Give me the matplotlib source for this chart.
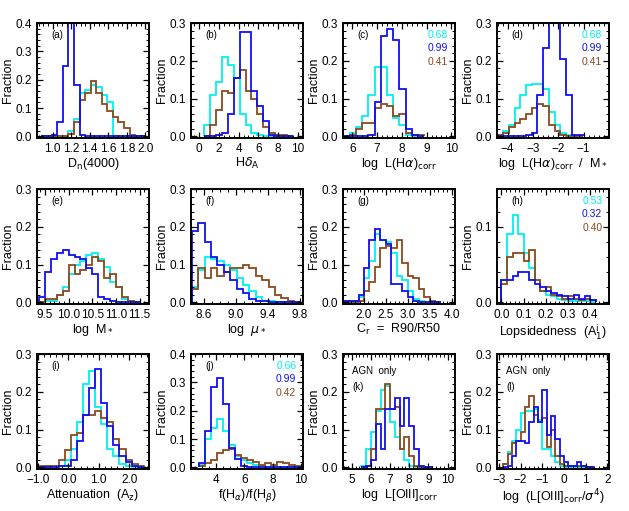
import numpy as np
import matplotlib
matplotlib.use("Agg")
import matplotlib.pyplot as plt
from matplotlib.ticker import AutoMinorLocator, FixedLocator

plt.rcParams['font.family'] = ['Liberation Sans', 'DejaVu Sans']
plt.rcParams['mathtext.fontset'] = 'dejavusans'

CYAN = '#00f0f0'
BLUE = '#1010f0'
BROWN = '#8b4a1c'

# ---------------- data ----------------
# (a) Dn(4000)
a_edges = np.round(np.arange(0.87, 2.02, 0.06), 3)
a_cyan = [0, 0, 0, 0, 0, 0.02, 0.06, 0.155, 0.165, 0.18, 0.175, 0.145, 0.12, 0, 0, 0, 0, 0, 0]
a_blue = [0, 0.002, 0.005, 0.05, 0.25, 0.5, 0.18, 0.005, 0.002, 0, 0, 0, 0, 0, 0, 0, 0, 0, 0]
a_brown = [0, 0, 0, 0, 0, 0.01, 0.05, 0.13, 0.155, 0.195, 0.155, 0.115, 0.09, 0.07, 0.05, 0.03, 0.005, 0, 0]

# (b) Hdelta_A
b_edges = np.round(np.arange(0.5, 9.6, 0.6), 3)
b_cyan = [0.03, 0.11, 0.145, 0.21, 0.19, 0.155, 0.06, 0.03, 0.01, 0.005, 0, 0, 0, 0, 0]
b_blue = [0, 0, 0.005, 0.01, 0.06, 0.155, 0.275, 0.275, 0.12, 0.08, 0.04, 0.005, 0, 0, 0]
b_brown = [0, 0.03, 0.07, 0.12, 0.115, 0.155, 0.175, 0.12, 0.10, 0.06, 0.025, 0.01, 0.005, 0.005, 0]

# (c) log L(Halpha)corr
c_edges = np.round(np.arange(5.65, 9.0, 0.25), 3)
c_cyan = [0.002, 0.01, 0.025, 0.055, 0.11, 0.185, 0.185, 0.11, 0.05, 0.03, 0.005, 0, 0]
c_blue = [0, 0, 0, 0, 0.005, 0.09, 0.265, 0.285, 0.255, 0.125, 0.02, 0.005, 0]
c_brown = [0, 0.005, 0.02, 0.035, 0.035, 0.075, 0.085, 0.08, 0.055, 0.06, 0.01, 0.005, 0.003]

# (d) log L(Halpha)corr / M*
d_edges = np.round(np.arange(-4.4, -0.99, 0.225), 3)
d_cyan = [0.005, 0.015, 0.03, 0.075, 0.11, 0.135, 0.14, 0.14, 0.125, 0.065, 0.03, 0.01, 0.003, 0, 0]
d_blue = [0, 0, 0, 0, 0, 0.005, 0.01, 0.11, 0.235, 0.4, 0.4, 0.205, 0.11, 0.005, 0.003]
d_brown = [0.005, 0.01, 0.025, 0.035, 0.045, 0.06, 0.075, 0.085, 0.08, 0.03, 0.015, 0.005, 0, 0, 0]

# (e) log M*
e_edges = np.round(np.arange(9.375, 11.51, 0.125), 4)
e_cyan = [0, 0.005, 0.005, 0.02, 0.04, 0.075, 0.10, 0.11, 0.125, 0.13, 0.115, 0.095, 0.055, 0.04, 0.01, 0.005, 0]
e_blue = [0.015, 0.08, 0.115, 0.13, 0.14, 0.125, 0.12, 0.115, 0.09, 0.075, 0.015, 0.008, 0.005, 0.002, 0, 0, 0]
e_brown = [0, 0.01, 0.01, 0.02, 0.03, 0.10, 0.075, 0.085, 0.10, 0.12, 0.11, 0.065, 0.075, 0.04, 0.015, 0.005, 0]

# (f) log mu*
f_edges = np.round(np.arange(8.45, 9.82, 0.08), 3)
f_cyan = [0.04, 0.085, 0.12, 0.115, 0.11, 0.10, 0.085, 0.065, 0.045, 0.03, 0.015, 0.005, 0.003, 0, 0, 0, 0]
f_blue = [0.19, 0.21, 0.16, 0.12, 0.10, 0.08, 0.06, 0.035, 0.025, 0.01, 0.005, 0.003, 0, 0, 0, 0, 0]
f_brown = [0.035, 0.09, 0.065, 0.09, 0.07, 0.08, 0.09, 0.09, 0.10, 0.09, 0.07, 0.06, 0.04, 0.02, 0.012, 0.005, 0]

# (g) Cr
g_edges = np.round(np.arange(1.5, 3.76, 0.125), 4)
g_cyan = [0.003, 0.003, 0.003, 0.015, 0.065, 0.11, 0.18, 0.165, 0.16, 0.13, 0.07, 0.06, 0.03, 0.01, 0.005, 0, 0, 0]
g_blue = [0.003, 0.003, 0.003, 0.02, 0.09, 0.165, 0.195, 0.165, 0.155, 0.05, 0.05, 0.03, 0.015, 0.005, 0, 0, 0, 0]
g_brown = [0, 0, 0, 0.005, 0.03, 0.055, 0.095, 0.145, 0.15, 0.145, 0.165, 0.105, 0.07, 0.065, 0.035, 0.015, 0.005, 0]

# (h) Lopsidedness
h_edges = np.round(np.arange(0.0, 0.426, 0.025), 4)
h_cyan = [0.03, 0.09, 0.115, 0.09, 0.065, 0.045, 0.03, 0.015, 0.01, 0.008, 0.005, 0.003, 0.002, 0.002, 0.002, 0.002, 0.001]
h_blue = [0.03, 0.03, 0.035, 0.04, 0.04, 0.03, 0.025, 0.02, 0.015, 0.012, 0.01, 0.008, 0.005, 0.01, 0.005, 0.008, 0.003]
h_brown = [0.025, 0.06, 0.065, 0.065, 0.055, 0.07, 0.03, 0.015, 0.02, 0.01, 0.008, 0.005, 0.008, 0.004, 0.003, 0.004, 0.003]

# (i) Attenuation Az
i_edges = np.round(np.arange(-0.92, 2.5, 0.2), 3)
i_cyan = [0, 0.003, 0.003, 0.005, 0.02, 0.05, 0.12, 0.22, 0.255, 0.16, 0.115, 0.05, 0.03, 0.01, 0.005, 0, 0]
i_blue = [0, 0, 0, 0.003, 0.005, 0.02, 0.07, 0.14, 0.21, 0.26, 0.17, 0.11, 0.06, 0.03, 0.015, 0.005, 0]
i_brown = [0.003, 0.003, 0.005, 0.02, 0.045, 0.085, 0.09, 0.14, 0.14, 0.15, 0.13, 0.12, 0.075, 0.05, 0.02, 0.01, 0.005]

# (j) f(Ha)/f(Hb)
j_edges = np.round(np.arange(2.75, 10.1, 0.43), 3)
j_cyan = [0.01, 0.10, 0.14, 0.17, 0.13, 0.08, 0.04, 0.025, 0.015, 0.01, 0.005, 0.003, 0.002, 0.002, 0.001, 0.001, 0.001]
j_blue = [0.015, 0.13, 0.285, 0.315, 0.225, 0.07, 0.03, 0.005, 0.002, 0, 0, 0, 0, 0, 0, 0, 0]
j_brown = [0.005, 0.015, 0.025, 0.05, 0.06, 0.065, 0.045, 0.035, 0.025, 0.02, 0.01, 0.015, 0.01, 0.02, 0.015, 0.01, 0.005]

# (k) log L[OIII]corr
k_edges = np.round(np.arange(5.5, 9.26, 0.25), 3)
k_cyan = [0.005, 0.05, 0.095, 0.15, 0.205, 0.215, 0.12, 0.08, 0.05, 0.02, 0.005, 0, 0, 0, 0]
k_blue = [0, 0.005, 0.02, 0.115, 0.05, 0.155, 0.155, 0.185, 0.11, 0.185, 0.11, 0.05, 0.005, 0, 0]
k_brown = [0, 0.005, 0.05, 0.155, 0.155, 0.22, 0.155, 0.16, 0.05, 0.08, 0.03, 0.005, 0, 0, 0]

# (l) log(L[OIII]corr / sigma^4)
l_edges = np.round(np.arange(-2.8, 1.41, 0.2), 3)
l_cyan = [0.01, 0.04, 0.07, 0.10, 0.145, 0.15, 0.15, 0.155, 0.125, 0.05, 0.05, 0.03, 0.015, 0.005, 0, 0, 0, 0, 0, 0, 0]
l_blue = [0, 0.005, 0.03, 0.07, 0.07, 0.065, 0.12, 0.16, 0.12, 0.205, 0.085, 0.135, 0.075, 0.03, 0.015, 0.005, 0.005, 0.015, 0.005, 0, 0]
l_brown = [0.01, 0.035, 0.065, 0.07, 0.095, 0.16, 0.19, 0.14, 0.12, 0.13, 0.055, 0.1, 0.03, 0.01, 0.005, 0.005, 0.003, 0.003, 0.005, 0, 0]

panels = [
    dict(tag='(a)', edges=a_edges, c=a_cyan, b=a_blue, r=a_brown, xlim=(0.83, 2.04), ylim=0.4,
         xt=[1.0, 1.2, 1.4, 1.6, 1.8, 2.0], xfmt='{:.1f}', xminor=4, yt=[0, 0.1, 0.2, 0.3, 0.4],
         xlabel=r'D$_{\rm n}$(4000)'),
    dict(tag='(b)', edges=b_edges, c=b_cyan, b=b_blue, r=b_brown, xlim=(-0.8, 10.5), ylim=0.3,
         xt=[0, 2, 4, 6, 8, 10], xfmt='{:d}', xminor=4, yt=[0, 0.1, 0.2, 0.3],
         xlabel=r'H$\delta_{\rm A}$'),
    dict(tag='(c)', edges=c_edges, c=c_cyan, b=c_blue, r=c_brown, xlim=(5.62, 10.15), ylim=0.3,
         xt=[6, 7, 8, 9, 10], xfmt='{:d}', xminor=5, yt=[0, 0.1, 0.2, 0.3],
         xlabel=r'log  L(H$\alpha$)$_{\rm corr}$', nums=['0.68', '0.99', '0.41']),
    dict(tag='(d)', edges=d_edges, c=d_cyan, b=d_blue, r=d_brown, xlim=(-4.42, 0.0), ylim=0.3,
         xt=[-4, -3, -2, -1], xfmt='{:d}', xminor=5, yt=[0, 0.1, 0.2, 0.3],
         xlabel=r'log  L(H$\alpha$)$_{\rm corr}$  /  M$_*$', nums=['0.68', '0.99', '0.41']),
    dict(tag='(e)', edges=e_edges, c=e_cyan, b=e_blue, r=e_brown, xlim=(9.33, 11.7), ylim=0.3,
         xt=[9.5, 10.0, 10.5, 11.0, 11.5], xfmt='{:.1f}', xminor=5, yt=[0, 0.1, 0.2, 0.3],
         xlabel=r'log  M$_*$'),
    dict(tag='(f)', edges=f_edges, c=f_cyan, b=f_blue, r=f_brown, xlim=(8.44, 9.84), ylim=0.3,
         xt=[8.6, 9.0, 9.4, 9.8], xfmt='{:.1f}', xminor=4, yt=[0, 0.1, 0.2, 0.3],
         xlabel=r'log  $\mu_*$'),
    dict(tag='(g)', edges=g_edges, c=g_cyan, b=g_blue, r=g_brown, xlim=(1.52, 4.08), ylim=0.3,
         xt=[2.0, 2.5, 3.0, 3.5, 4.0], xfmt='{:.1f}', xminor=5, yt=[0, 0.1, 0.2, 0.3],
         xlabel=r'C$_{\rm r}$  =  R90/R50'),
    dict(tag='(h)', edges=h_edges, c=h_cyan, b=h_blue, r=h_brown, xlim=(-0.02, 0.485), ylim=0.15,
         xt=[0.0, 0.1, 0.2, 0.3, 0.4], xfmt='{:.1f}', xminor=5, yt=[0, 0.1],
         xlabel=r'Lopsidedness  (A$_1^{\rm i}$)', nums=['0.53', '0.32', '0.40']),
    dict(tag='(i)', edges=i_edges, c=i_cyan, b=i_blue, r=i_brown, xlim=(-1.03, 2.65), ylim=0.3,
         xt=[-1.0, 0.0, 1.0, 2.0], xfmt='{:.1f}', xminor=5, yt=[0, 0.1, 0.2, 0.3],
         xlabel=r'Attenuation  (A$_{\rm z}$)'),
    dict(tag='(j)', edges=j_edges, c=j_cyan, b=j_blue, r=j_brown, xlim=(2.2, 10.17), ylim=0.4,
         xt=[4, 6, 8, 10], xfmt='{:d}', xminor=4, yt=[0, 0.1, 0.2, 0.3, 0.4],
         xlabel=r'f(H$_\alpha$)/f(H$_\beta$)', nums=['0.66', '0.99', '0.42']),
    dict(tag='(k)', edges=k_edges, c=k_cyan, b=k_blue, r=k_brown, xlim=(4.54, 10.39), ylim=0.3,
         xt=[5, 6, 7, 8, 9, 10], xfmt='{:d}', xminor=5, yt=[0, 0.1, 0.2, 0.3],
         xlabel=r'log  L[OIII]$_{\rm corr}$', agn=True),
    dict(tag='(l)', edges=l_edges, c=l_cyan, b=l_blue, r=l_brown, xlim=(-3.09, 2.08), ylim=0.3,
         xt=[-3, -2, -1, 0, 1, 2], xfmt='{:d}', xminor=5, yt=[0, 0.1, 0.2, 0.3],
         xlabel=r'log  (L[OIII]$_{\rm corr}$/$\sigma^4$)', agn=True),
]

W, H = 629, 511
fig = plt.figure(figsize=(W / 100, H / 100), dpi=100)
lefts = [37, 191, 343, 497]
rows = [(23, 138), (189, 304), (354, 469)]
pw = 112

for idx, p in enumerate(panels):
    r, cidx = divmod(idx, 4)
    top, bot = rows[r]
    ax = fig.add_axes([lefts[cidx] / W, 1 - bot / H, pw / W, (bot - top) / H])
    for vals, col in ((p['c'], CYAN), (p['r'], BROWN), (p['b'], BLUE)):
        ax.stairs(vals, p['edges'], color=col, lw=1.3)
    ax.set_xlim(*p['xlim'])
    ax.set_ylim(-0.004 * p['ylim'] / 0.3, p['ylim'])
    ax.xaxis.set_major_locator(FixedLocator(p['xt']))
    ax.set_xticklabels([p['xfmt'].format(int(v) if p['xfmt'] == '{:d}' else v).replace('-', '\u2212')
                        for v in p['xt']])
    ax.yaxis.set_major_locator(FixedLocator(p['yt']))
    ax.set_yticklabels(['{:.1f}'.format(v) for v in p['yt']])
    ax.xaxis.set_minor_locator(AutoMinorLocator(p['xminor']))
    ax.yaxis.set_minor_locator(AutoMinorLocator(5))
    ax.tick_params(which='both', direction='in', top=True, right=True, labelsize=8.5, pad=3.5)
    ax.tick_params(which='major', length=4.5, width=0.9)
    ax.tick_params(which='minor', length=2.2, width=0.7)
    for s in ax.spines.values():
        s.set_linewidth(1.4)
    ax.set_ylabel('Fraction', fontsize=9, labelpad=1.5)
    ax.set_xlabel(p['xlabel'], fontsize=9, labelpad=1)
    if p.get('agn'):
        ax.text(0.08, 0.85, 'AGN  only', transform=ax.transAxes, fontsize=7, ha='left', va='center')
        ax.text(0.08, 0.71, p['tag'], transform=ax.transAxes, fontsize=7, ha='left', va='center')
    else:
        ax.text(0.13, 0.9, p['tag'], transform=ax.transAxes, fontsize=7, ha='left', va='center')
    if p.get('nums'):
        for k, (txt, col) in enumerate(zip(p['nums'], [CYAN, BLUE, BROWN])):
            ax.text(0.94, 0.9 - 0.12 * k, txt, transform=ax.transAxes, fontsize=7.5,
                    ha='right', va='center', color=col)

fig.savefig('out.png', dpi=100)
